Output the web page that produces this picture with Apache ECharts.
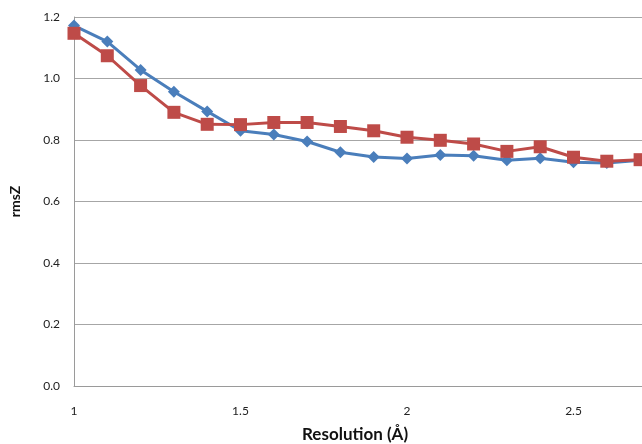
<!DOCTYPE html>
<html>
<head>
<meta charset="utf-8">
<script src="https://cdn.jsdelivr.net/npm/echarts@6/dist/echarts.min.js"></script>
<style>html,body{margin:0;padding:0;background:#fff}#c{width:642px;height:444px}</style>
</head>
<body>
<div id="c"></div>
<script>
const resolution = [1.0,1.1,1.2,1.3,1.4,1.5,1.6,1.7,1.8,1.9,2.0,2.1,2.2,2.3,2.4,2.5,2.6,2.7];
const blueSeries = [1.172,1.120,1.028,0.957,0.893,0.830,0.818,0.795,0.760,0.745,0.740,0.751,0.749,0.734,0.741,0.728,0.725,0.734];
const redSeries  = [1.147,1.074,0.977,0.890,0.851,0.850,0.857,0.857,0.844,0.830,0.809,0.799,0.787,0.763,0.778,0.744,0.731,0.736];
const yTicks = [0.0,0.2,0.4,0.6,0.8,1.0,1.2];
const xMin = 1, xMax = 2.7057, xStep = 0.5;

const chart = echarts.init(document.getElementById('c'));
const font = 'Lato, "Open Sans", sans-serif';
chart.setOption({
  animation: false,
  grid: {left: 74, top: 17, bottom: 58, right: 0, containLabel: false},
  xAxis: {
    type: 'value', min: xMin, max: xMax, interval: xStep,
    axisLine: {show: true, lineStyle: {color: '#9a9a9a', width: 1}},
    axisTick: {show: false},
    splitLine: {show: false},
    axisLabel: {color: '#222', fontSize: 12, fontFamily: font, margin: 19, showMaxLabel: false,
      formatter: v => String(v)}
  },
  yAxis: {
    type: 'value', min: yTicks[0], max: yTicks[yTicks.length-1], interval: 0.2,
    name: 'rmsZ', nameLocation: 'middle', nameGap: 52, nameRotate: 90,
    nameTextStyle: {color: '#111', fontSize: 14, fontWeight: 'bold', fontFamily: font},
    axisLine: {show: true, lineStyle: {color: '#9a9a9a', width: 1}},
    axisTick: {show: false},
    splitLine: {show: true, lineStyle: {color: '#a6a6a6', width: 1}},
    axisLabel: {color: '#222', fontSize: 12, fontFamily: font, margin: 14,
      formatter: v => v.toFixed(1)}
  },
  graphic: [{
    type: 'text', left: 302, top: 426,
    style: {text: 'Resolution (Å)', fill: '#111', font: 'bold 17px ' + font}
  }],
  series: [
    {
      type: 'line', data: resolution.map((x,i)=>[x, blueSeries[i]]),
      symbol: 'diamond', symbolSize: 12, clip: false,
      lineStyle: {color: '#4a7ebb', width: 3},
      itemStyle: {color: '#4a7ebb'}
    },
    {
      type: 'line', data: resolution.map((x,i)=>[x, redSeries[i]]),
      symbol: 'rect', symbolSize: 13, clip: false,
      lineStyle: {color: '#be4b48', width: 3},
      itemStyle: {color: '#be4b48'}
    }
  ]
});
</script>
</body>
</html>
